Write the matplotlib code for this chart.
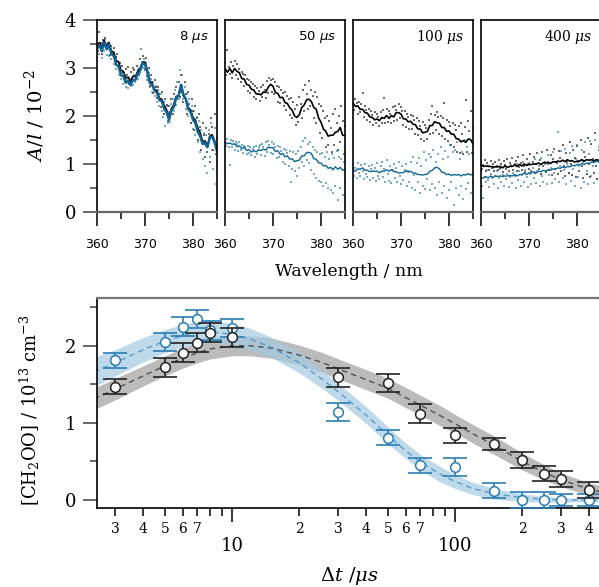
import numpy as np
import matplotlib.pyplot as plt
from matplotlib.ticker import MultipleLocator, LogLocator, FuncFormatter

plt.rcParams['font.family'] = 'DejaVu Serif'
plt.rcParams['mathtext.fontset'] = 'dejavuserif'

# ---------------- top: spectra at four delays ----------------
delays = ['8', '50', '100', '400']
delay_sans = [True, True, False, False]

wl_line = np.arange(360, 385.01, 0.5)
wl_dots = np.arange(360, 385.01, 0.25)

line_k = [
    [3.44, 3.53, 3.43, 3.58, 3.45, 3.53, 3.35, 3.33, 3.15, 3.13, 2.95, 2.93, 2.79, 2.81, 2.72, 2.83, 2.82,
     2.93, 2.99, 3.13, 3.12, 2.95, 2.72, 2.68, 2.55, 2.53, 2.37, 2.35, 2.22, 2.13, 1.97, 2.15, 2.24, 2.41,
     2.42, 2.61, 2.42, 2.36, 2.17, 2.13, 1.97, 1.91, 1.75, 1.65, 1.47, 1.48, 1.37, 1.58, 1.61, 1.48, 1.33],
    [2.99, 2.91, 2.99, 2.90, 2.99, 2.93, 2.90, 2.78, 2.77, 2.66, 2.64, 2.56, 2.54, 2.46, 2.46, 2.44, 2.50,
     2.49, 2.60, 2.66, 2.62, 2.49, 2.47, 2.38, 2.39, 2.28, 2.26, 2.17, 2.12, 2.00, 1.97, 2.03, 2.18, 2.23,
     2.34, 2.35, 2.30, 2.18, 2.14, 1.96, 1.87, 1.73, 1.68, 1.58, 1.60, 1.60, 1.66, 1.68, 1.76, 1.60, 1.59],
    [2.27, 2.20, 2.21, 2.14, 2.14, 2.07, 2.06, 1.98, 1.97, 1.92, 1.94, 1.90, 1.97, 1.95, 2.01, 1.95, 2.01,
     1.98, 2.07, 2.07, 2.04, 1.94, 1.94, 1.88, 1.89, 1.83, 1.82, 1.73, 1.73, 1.65, 1.66, 1.68, 1.80, 1.80,
     1.88, 1.86, 1.85, 1.76, 1.76, 1.68, 1.69, 1.62, 1.62, 1.53, 1.52, 1.46, 1.49, 1.45, 1.52, 1.51, 1.42],
    [0.98, 0.95, 0.96, 0.95, 0.95, 0.94, 0.94, 0.94, 0.95, 0.92, 0.96, 0.93, 0.95, 0.95, 0.98, 0.95, 0.99,
     0.96, 1.00, 0.97, 0.99, 0.99, 1.00, 1.00, 1.02, 0.99, 1.03, 1.02, 1.04, 1.01, 1.05, 1.04, 1.06, 1.05,
     1.08, 1.05, 1.09, 1.06, 1.07, 1.04, 1.06, 1.06, 1.09, 1.06, 1.09, 1.08, 1.09, 1.06, 1.09, 1.08, 1.08],
]

line_b = [
    [3.40, 3.48, 3.35, 3.53, 3.39, 3.49, 3.29, 3.25, 3.07, 3.03, 2.85, 2.83, 2.69, 2.73, 2.65, 2.75, 2.75,
     2.88, 2.95, 3.11, 3.07, 2.91, 2.69, 2.65, 2.52, 2.49, 2.33, 2.31, 2.15, 2.08, 1.92, 2.11, 2.19, 2.38,
     2.42, 2.65, 2.45, 2.35, 2.15, 2.08, 1.92, 1.85, 1.67, 1.58, 1.42, 1.43, 1.35, 1.55, 1.57, 1.45, 1.27],
    [1.46, 1.42, 1.44, 1.41, 1.42, 1.36, 1.38, 1.32, 1.35, 1.28, 1.30, 1.25, 1.28, 1.25, 1.30, 1.28, 1.31,
     1.29, 1.35, 1.34, 1.34, 1.26, 1.28, 1.20, 1.22, 1.15, 1.17, 1.10, 1.11, 1.05, 1.07, 1.08, 1.17, 1.17,
     1.24, 1.24, 1.22, 1.11, 1.10, 1.02, 1.02, 0.96, 0.97, 0.91, 0.93, 0.88, 0.94, 0.89, 0.93, 0.87, 0.89],
    [0.875, 0.85, 0.90, 0.89, 0.92, 0.87, 0.87, 0.84, 0.85, 0.85, 0.85, 0.82, 0.85, 0.85, 0.88, 0.85, 0.885,
     0.84, 0.84, 0.81, 0.82, 0.82, 0.86, 0.83, 0.85, 0.81, 0.81, 0.78, 0.78, 0.77, 0.78, 0.79, 0.85, 0.865,
     0.92, 0.93, 0.90, 0.83, 0.82, 0.78, 0.79, 0.76, 0.78, 0.77, 0.78, 0.75, 0.78, 0.77, 0.80, 0.77, 0.80],
    [0.70, 0.71, 0.74, 0.71, 0.75, 0.72, 0.75, 0.74, 0.75, 0.74, 0.75, 0.75, 0.76, 0.75, 0.78, 0.75, 0.78,
     0.78, 0.81, 0.78, 0.82, 0.81, 0.84, 0.81, 0.85, 0.84, 0.87, 0.85, 0.885, 0.87, 0.90, 0.89, 0.92, 0.91,
     0.94, 0.92, 0.95, 0.94, 0.97, 0.96, 0.99, 0.98, 1.01, 0.99, 1.02, 1.01, 1.04, 1.03, 1.06, 1.04, 1.06],
]

dots_k = [
    [3.50, 3.36, 3.75, 3.52, 3.30, 3.58, 3.49, 3.62, 3.40, 3.53, 3.44, 3.28, 3.45, 3.30, 3.42, 3.15, 3.22,
     3.30, 3.02, 3.10, 2.88, 3.05, 2.92, 2.72, 2.98, 2.85, 3.02, 2.66, 2.92, 2.80, 3.00, 2.95, 2.74, 3.05,
     2.96, 2.85, 3.18, 3.00, 3.25, 3.08, 2.98, 3.20, 2.84, 3.00, 2.62, 2.85, 2.70, 2.48, 2.75, 2.60, 2.38,
     2.60, 2.45, 2.18, 2.50, 2.30, 2.05, 2.35, 2.22, 1.90, 2.20, 2.02, 2.35, 2.05, 2.45, 2.22, 2.60, 2.35,
     2.70, 2.40, 2.85, 2.62, 2.30, 2.70, 2.45, 2.05, 2.50, 2.25, 1.85, 2.35, 2.10, 1.70, 2.20, 1.95, 1.50,
     2.05, 1.78, 1.30, 1.85, 1.60, 1.15, 1.75, 1.25, 1.62, 1.05, 1.95, 1.78, 1.30, 2.05, 1.20, 1.55],
    [3.10, 2.85, 3.38, 3.02, 2.88, 3.12, 2.80, 3.05, 3.15, 2.86, 3.08, 2.78, 2.98, 2.70, 2.92, 2.88, 2.62,
     2.85, 2.78, 2.52, 2.75, 2.48, 2.70, 2.66, 2.40, 2.62, 2.35, 2.58, 2.52, 2.32, 2.60, 2.40, 2.65, 2.55,
     2.38, 2.72, 2.48, 2.80, 2.75, 2.50, 2.78, 2.45, 2.70, 2.62, 2.30, 2.60, 2.28, 2.55, 2.48, 2.20, 2.50,
     2.12, 2.42, 2.35, 2.02, 2.38, 1.95, 2.30, 2.15, 1.82, 2.22, 1.88, 2.40, 2.25, 1.95, 2.55, 2.10, 2.65,
     2.45, 2.15, 2.72, 2.20, 2.55, 2.42, 1.95, 2.50, 1.85, 2.40, 2.25, 1.65, 2.20, 1.55, 2.10, 1.95, 1.35,
     2.00, 1.40, 1.90, 1.75, 1.25, 2.05, 1.40, 2.15, 1.85, 1.30, 2.00, 1.45, 2.20, 1.90, 1.20, 1.80],
    [2.40, 2.12, 2.35, 2.28, 2.05, 2.30, 2.08, 2.25, 2.47, 1.98, 2.20, 2.12, 1.92, 2.15, 1.88, 2.10, 2.02,
     1.82, 2.08, 1.86, 2.05, 1.98, 1.80, 2.08, 1.85, 2.12, 2.38, 1.86, 2.15, 1.88, 2.10, 2.05, 1.85, 2.18,
     1.90, 2.20, 2.12, 1.92, 2.25, 1.95, 2.18, 2.10, 1.82, 2.10, 1.78, 2.05, 1.98, 1.72, 2.02, 1.72, 2.00,
     1.92, 1.62, 1.95, 1.60, 1.90, 1.80, 1.52, 1.88, 1.48, 1.82, 1.75, 1.52, 1.92, 1.62, 2.05, 2.20, 1.65,
     2.02, 1.70, 2.08, 1.98, 1.62, 2.00, 1.58, 1.95, 2.28, 1.52, 1.92, 1.48, 1.88, 1.80, 1.40, 1.85, 1.35,
     1.82, 1.70, 1.25, 1.80, 1.22, 1.85, 1.62, 1.20, 1.78, 2.33, 1.25, 1.90, 1.68, 2.10, 1.22, 1.75],
    [1.05, 0.90, 0.98, 1.08, 0.86, 1.02, 0.95, 0.88, 1.06, 0.92, 1.00, 0.85, 1.04, 0.96, 0.88, 1.08, 0.92,
     1.00, 0.84, 1.06, 0.98, 0.90, 1.10, 0.86, 1.02, 0.95, 1.12, 0.88, 1.00, 1.06, 0.85, 1.15, 0.94, 1.02,
     0.88, 1.18, 0.96, 0.84, 1.10, 1.00, 0.90, 1.20, 0.86, 1.05, 1.15, 0.82, 1.00, 1.22, 0.90, 1.08, 0.80,
     1.25, 0.95, 1.05, 0.84, 1.30, 1.00, 0.88, 1.18, 0.78, 1.10, 1.32, 0.90, 1.02, 0.80, 1.28, 1.12, 0.85,
     1.40, 0.96, 0.75, 1.22, 1.05, 0.82, 1.45, 1.00, 0.78, 1.30, 1.12, 0.72, 1.38, 1.05, 0.85, 1.50, 0.95,
     0.70, 1.25, 1.15, 0.80, 1.55, 1.00, 0.72, 1.42, 1.10, 0.82, 1.64, 0.95, 0.68, 1.30, 1.20, 0.78],
]

dots_b = [
    [3.22, 3.48, 3.30, 3.38, 3.20, 3.52, 3.35, 3.60, 3.28, 3.40, 3.25, 3.45, 3.18, 3.30, 3.08, 3.20, 2.98,
     3.12, 2.85, 2.98, 2.78, 2.90, 2.66, 2.82, 2.60, 2.75, 2.58, 2.80, 2.62, 2.72, 2.64, 2.85, 2.70, 2.90,
     2.78, 3.00, 2.90, 3.40, 3.00, 3.18, 2.95, 3.10, 2.75, 2.90, 2.60, 2.78, 2.50, 2.70, 2.42, 2.62, 2.30,
     2.55, 2.20, 2.45, 2.10, 1.98, 2.30, 1.80, 2.20, 1.85, 2.08, 1.88, 2.25, 2.35, 2.10, 2.55, 2.22, 2.70,
     2.35, 2.95, 2.50, 2.85, 2.35, 2.60, 2.15, 2.45, 2.00, 2.35, 1.85, 2.20, 1.72, 2.10, 1.60, 1.98, 1.45,
     1.90, 1.25, 1.70, 1.10, 1.65, 0.95, 1.60, 0.82, 1.70, 1.15, 1.85, 1.30, 0.90, 1.75, 0.58, 1.05],
    [1.62, 1.38, 1.52, 1.35, 0.98, 1.50, 1.36, 1.48, 1.30, 1.45, 1.42, 1.28, 1.46, 1.30, 1.40, 1.22, 1.38,
     1.36, 1.20, 1.38, 1.22, 1.35, 1.18, 1.32, 1.36, 1.15, 1.38, 1.20, 1.35, 1.40, 1.18, 1.42, 1.35, 1.16,
     1.45, 1.25, 1.48, 1.40, 1.22, 1.46, 1.20, 1.42, 1.36, 1.12, 1.38, 1.15, 1.35, 1.28, 1.05, 1.32, 1.00,
     1.30, 1.22, 0.95, 1.28, 0.62, 0.90, 1.25, 0.85, 1.20, 0.75, 1.28, 0.92, 1.35, 1.05, 1.48, 0.95, 1.55,
     1.08, 1.42, 1.02, 1.45, 0.88, 1.35, 0.80, 1.30, 0.70, 1.25, 0.65, 1.20, 0.62, 1.22, 0.55, 1.15, 0.60,
     1.25, 0.50, 1.10, 0.45, 1.20, 0.40, 1.12, 0.55, 1.28, 0.25, 1.15, 0.50, 1.10, 0.35, 1.05, 0.60],
    [1.00, 0.74, 0.92, 0.70, 1.02, 0.82, 0.75, 0.98, 0.85, 0.68, 1.00, 0.80, 0.72, 0.96, 0.66, 0.90, 0.98,
     0.70, 0.92, 0.64, 1.02, 0.76, 0.68, 0.95, 1.05, 0.72, 0.90, 0.62, 1.08, 0.80, 0.65, 0.96, 0.60, 0.88,
     1.00, 0.70, 0.92, 0.62, 1.05, 0.76, 0.58, 0.95, 0.66, 0.88, 1.00, 0.55, 0.85, 0.62, 1.05, 0.50, 1.15,
     0.78, 0.45, 1.02, 0.62, 1.12, 0.40, 0.95, 0.55, 1.26, 0.48, 1.08, 0.68, 1.20, 0.45, 1.15, 0.58, 1.30,
     0.50, 1.05, 0.35, 1.20, 0.62, 1.35, 0.40, 1.10, 0.55, 1.28, 0.30, 1.15, 0.45, 1.40, 0.62, 1.25, 0.15,
     1.30, 0.50, 1.45, 0.35, 1.10, 0.55, 1.26, 0.28, 1.50, 0.48, 1.35, 0.60, 1.20, 0.40, 1.45, 0.62],
    [0.85, 0.55, 0.30, 0.72, 0.62, 0.88, 0.66, 0.52, 0.80, 0.70, 0.92, 0.58, 0.75, 0.85, 0.50, 0.70, 0.90,
     0.62, 0.78, 0.55, 0.95, 0.68, 0.80, 0.52, 0.72, 0.98, 0.60, 0.82, 0.74, 0.50, 1.00, 0.66, 0.85, 0.55,
     0.78, 1.05, 0.62, 0.88, 0.72, 0.52, 1.02, 0.80, 0.58, 0.92, 0.70, 1.10, 0.60, 0.85, 0.95, 0.55, 1.12,
     0.75, 0.62, 1.00, 0.86, 0.58, 1.18, 0.78, 0.92, 0.60, 1.25, 0.82, 0.68, 1.05, 1.67, 0.62, 0.95, 1.28,
     0.70, 0.88, 1.32, 0.58, 1.00, 0.82, 1.22, 0.65, 1.38, 0.90, 0.55, 1.10, 1.40, 0.72, 0.96, 0.50, 1.30,
     1.05, 0.62, 1.45, 0.85, 0.58, 1.20, 1.48, 0.75, 0.95, 0.60, 1.50, 1.08, 0.68, 1.35, 0.80, 1.52],
]

# ---------------- bottom: kinetics ----------------
t_black = [3, 5, 6, 7, 8, 10, 30, 50, 70, 100, 150, 200, 250, 300, 400]
y_black = [1.47, 1.72, 1.91, 2.04, 2.17, 2.11, 1.59, 1.52, 1.12, 0.84, 0.73, 0.52, 0.34, 0.27, 0.13]
e_black = [0.10, 0.12, 0.12, 0.12, 0.12, 0.12, 0.12, 0.12, 0.12, 0.10, 0.08, 0.10, 0.10, 0.10, 0.10]

t_blue = [3, 5, 6, 7, 8, 10, 30, 50, 70, 100, 150, 200, 250, 300, 400]
y_blue = [1.81, 2.05, 2.25, 2.35, 2.20, 2.23, 1.14, 0.81, 0.45, 0.43, 0.12, 0.0, 0.0, 0.0, 0.0]
e_blue = [0.10, 0.12, 0.12, 0.12, 0.12, 0.12, 0.12, 0.10, 0.10, 0.12, 0.10, 0.10, 0.10, 0.08, 0.08]

t_fit = [2.4, 3, 4, 5, 6, 7, 8, 10, 12, 15, 20, 25, 30, 40, 50, 60, 70, 85, 100, 120, 150, 200, 250, 300, 400, 460]
fit_black = [1.31, 1.44, 1.61, 1.74, 1.84, 1.91, 1.96, 2.00, 2.00, 1.97, 1.88, 1.79, 1.70, 1.56, 1.45, 1.33,
             1.23, 1.10, 0.99, 0.86, 0.71, 0.50, 0.36, 0.26, 0.14, 0.10]
band_black = [0.14, 0.14, 0.13, 0.13, 0.13, 0.13, 0.13, 0.13, 0.13, 0.13, 0.13, 0.13, 0.13, 0.13, 0.13, 0.13,
              0.13, 0.13, 0.12, 0.12, 0.12, 0.11, 0.10, 0.09, 0.08, 0.08]
fit_blue = [1.66, 1.78, 1.95, 2.06, 2.13, 2.17, 2.18, 2.15, 2.09, 1.98, 1.78, 1.58, 1.40, 1.10, 0.84, 0.64,
            0.49, 0.34, 0.24, 0.15, 0.08, 0.03, 0.01, 0.0, 0.0, 0.0]
band_blue = [0.19, 0.17, 0.16, 0.15, 0.15, 0.15, 0.14, 0.14, 0.14, 0.13, 0.13, 0.12, 0.11, 0.11, 0.11, 0.10,
             0.10, 0.10, 0.09, 0.08, 0.07, 0.05, 0.04, 0.03, 0.02, 0.02]

W, H = 599, 587
fig = plt.figure(figsize=(W / 100, H / 100), dpi=100)


def px_axes(x0, y0, x1, y1):
    return fig.add_axes([x0 / W, 1 - y1 / H, (x1 - x0) / W, (y1 - y0) / H])


BLK_DOT = '#454545'
BLU_DOT = '#5a9dc6'
BLU_LINE = '#0f6496'
GRAY_AX = '#666666'

for i, d in enumerate(delays):
    ax = px_axes(97 + 128 * i, 20, 217 + 128 * i, 212)
    ax.plot(wl_dots, dots_b[i], 's', color=BLU_DOT, ms=1.6, mew=0, alpha=0.85)
    ax.plot(wl_dots, dots_k[i], 's', color=BLK_DOT, ms=1.6, mew=0, alpha=0.8)
    ax.plot(wl_line, line_k[i], '-', color='black', lw=1.2)
    ax.plot(wl_line, line_b[i], '-', color=BLU_LINE, lw=1.8 if i == 0 else 1.0)
    ax.set_xlim(360, 385)
    ax.set_ylim(0, 4)
    for s in ['left', 'right', 'top']:
        ax.spines[s].set_linewidth(1.2)
    ax.spines['bottom'].set_color(GRAY_AX)
    ax.spines['bottom'].set_linewidth(1.6)
    ax.xaxis.set_major_locator(MultipleLocator(10))
    ax.xaxis.set_minor_locator(MultipleLocator(5))
    ax.tick_params(axis='x', which='major', direction='out', length=10, width=1.1,
                   labelsize=9, pad=9, labelfontfamily='DejaVu Sans')
    ax.tick_params(axis='x', which='minor', direction='out', length=5, width=1.1)
    if i == 0:
        ax.yaxis.set_major_locator(MultipleLocator(1))
        ax.yaxis.set_minor_locator(MultipleLocator(0.5))
        ax.tick_params(axis='y', which='major', direction='out', length=10, width=1.4,
                       color=GRAY_AX, labelsize=13, pad=5)
        ax.tick_params(axis='y', which='minor', direction='out', length=5, width=1.4, color=GRAY_AX)
    else:
        ax.tick_params(axis='y', which='both', left=False, labelleft=False)
    if delay_sans[i]:
        ax.text(0.93, 0.91, d + r' $\mu s$', transform=ax.transAxes, ha='right', va='center',
                fontsize=9.5, family='DejaVu Sans', math_fontfamily='dejavusans')
    else:
        ax.text(0.93, 0.91, d + r' $\mu s$', transform=ax.transAxes, ha='right', va='center',
                fontsize=10)

fig.text(35 / W, 1 - 116 / H, r'$A/l\ /\ \mathrm{10}^{-2}$', rotation=90, ha='center', va='center',
         fontsize=14)
fig.text(349 / W, 1 - 271 / H, 'Wavelength / nm', ha='center', va='center', fontsize=12.5)

# bottom panel
ax = px_axes(97, 298, 601, 508)
ax.set_xscale('log')
ax.fill_between(t_fit, np.subtract(fit_black, band_black), np.add(fit_black, band_black),
                color='#b0b0b0', alpha=0.85, lw=0)
ax.fill_between(t_fit, np.subtract(fit_blue, band_blue), np.add(fit_blue, band_blue),
                color='#a3cae2', alpha=0.7, lw=0)
ax.plot(t_fit, fit_black, '--', color='#505050', lw=1.0, dashes=(4, 3))
ax.plot(t_fit, fit_blue, '--', color='#5a9cc8', lw=1.0, dashes=(4, 3))
ax.errorbar(t_blue, y_blue, yerr=e_blue, fmt='none', ecolor='#2a7db4', elinewidth=1.2,
            capsize=8.5, capthick=1.2, zorder=3)
ax.plot(t_blue, y_blue, 'o', mfc='white', mec='#2a7db4', ms=7, mew=1.1, zorder=4)
ax.errorbar(t_black, y_black, yerr=e_black, fmt='none', ecolor='#222222', elinewidth=1.2,
            capsize=8.5, capthick=1.2, zorder=5)
ax.plot(t_black, y_black, 'o', mfc='white', mec='#222222', ms=7, mew=1.1, zorder=6)
ax.set_xlim(2.48, 451.7)
ax.set_ylim(-0.104, 2.62)
ax.spines['right'].set_visible(False)
ax.spines['top'].set_color('#777777')
ax.spines['top'].set_linewidth(1.6)
ax.spines['left'].set_linewidth(1.2)
ax.spines['bottom'].set_linewidth(1.2)

ax.xaxis.set_major_locator(LogLocator(base=10))
ax.xaxis.set_major_formatter(FuncFormatter(lambda v, p: f'{v:g}'))
ax.xaxis.set_minor_locator(LogLocator(base=10, subs=np.arange(2, 10)))


def minor_label(v, p):
    m = int(round(v / 10 ** np.floor(np.log10(v) + 1e-9)))
    return str(m) if 2 <= m <= 7 else ''


ax.xaxis.set_minor_formatter(FuncFormatter(minor_label))
ax.tick_params(axis='x', which='major', direction='out', length=10, width=1.1, labelsize=13, pad=11)
ax.tick_params(axis='x', which='minor', direction='out', length=5.8, width=1.1, labelsize=10, pad=4)
ax.yaxis.set_major_locator(MultipleLocator(1))
ax.yaxis.set_minor_locator(MultipleLocator(0.5))
ax.tick_params(axis='y', which='major', direction='out', length=10, width=1.4, color=GRAY_AX,
               labelsize=13, pad=5)
ax.tick_params(axis='y', which='minor', direction='out', length=5, width=1.4, color=GRAY_AX)

fig.text(30 / W, 1 - 410 / H, r'[CH$_2$OO] / 10$^{13}$ cm$^{-3}$', rotation=90, ha='center',
         va='center', fontsize=13)
fig.text(349 / W, 1 - 576 / H, r'$\Delta t\ /\mu s$', ha='center', va='center', fontsize=14)

fig.savefig('out.png', dpi=100)
